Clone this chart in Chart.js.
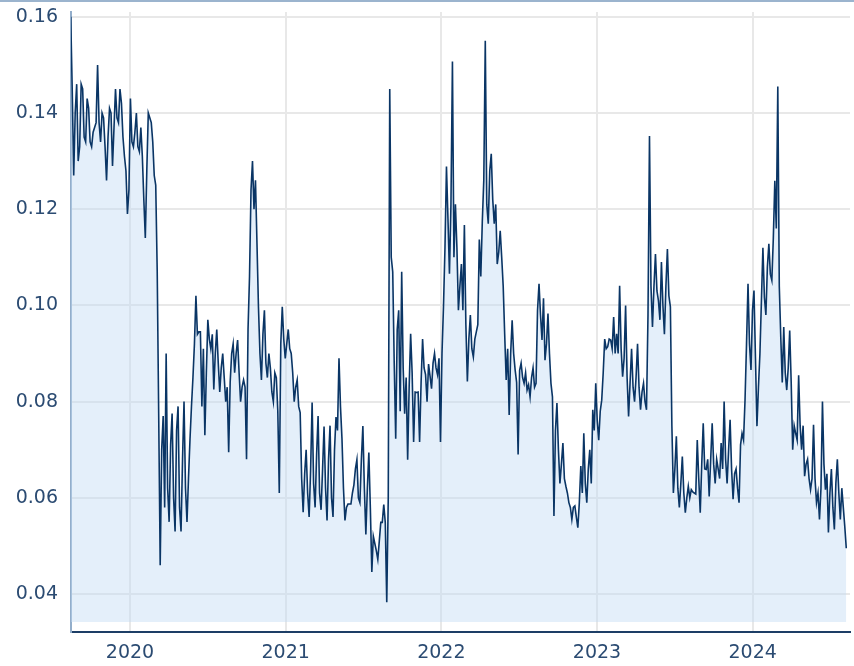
<!DOCTYPE html>
<html>
<head>
<meta charset="utf-8">
<script src="https://cdn.jsdelivr.net/npm/chart.js@4.4.1/dist/chart.umd.min.js"></script>
<style>
  html, body { margin: 0; padding: 0; background: #fff; }
  #wrap { position: relative; width: 854px; height: 666px; }
  #topline { position: absolute; left: 0; top: 0; width: 854px; height: 2px; background: #9bb4ce; }
</style>
</head>
<body>
<div id="wrap">
  <canvas id="chart" width="854" height="666"></canvas>
  <div id="topline"></div>
</div>
<script>
// readings every half week (3.5 days), first one on 2019-08-15
var firstDay = '2019-08-15';
var stepDays = 3.5;
var rate = [
  0.160,0.145, 0.127,0.140, 0.146,0.130, 0.133,0.146, 0.145,0.135,
  0.134,0.143, 0.141,0.134, 0.133,0.136, 0.137,0.138, 0.150,0.138,
  0.134,0.140, 0.139,0.133, 0.126,0.135, 0.141,0.140, 0.129,0.137,
  0.145,0.139, 0.138,0.145, 0.142,0.135, 0.131,0.128, 0.119,0.124,
  0.143,0.134, 0.133,0.136, 0.140,0.133, 0.132,0.137, 0.131,0.122,
  0.114,0.128, 0.140,0.139, 0.138,0.134, 0.127,0.125, 0.107,0.077,
  0.046,0.070, 0.077,0.058, 0.090,0.062, 0.055,0.071, 0.0775,0.060,
  0.053,0.074, 0.079,0.058, 0.053,0.068, 0.080,0.062, 0.055,0.064,
  0.072,0.079, 0.085,0.092, 0.102,0.094, 0.0945,0.0945, 0.079,0.091,
  0.073,0.086, 0.097,0.093, 0.091,0.094, 0.0825,0.090, 0.095,0.088,
  0.082,0.087, 0.090,0.085, 0.080,0.083, 0.0695,0.084, 0.090,0.092,
  0.086,0.090, 0.0928,0.086, 0.080,0.083, 0.0845,0.083, 0.068,0.095,
  0.106,0.124, 0.130,0.120, 0.126,0.113, 0.0997,0.090, 0.0845,0.094,
  0.099,0.088, 0.085,0.090, 0.087,0.082, 0.080,0.086, 0.085,0.078,
  0.061,0.092, 0.0997,0.093, 0.089,0.092, 0.095,0.091, 0.090,0.086,
  0.080,0.083, 0.0845,0.079, 0.0777,0.064, 0.057,0.065, 0.070,0.061,
  0.056,0.066, 0.0798,0.063, 0.058,0.069, 0.077,0.061, 0.0575,0.066,
  0.0748,0.062, 0.0553,0.068, 0.075,0.060, 0.056,0.070, 0.0768,0.074,
  0.089,0.079, 0.0723,0.062, 0.0553,0.058, 0.0587,0.0587, 0.0587,0.061,
  0.0627,0.066, 0.0679,0.060, 0.059,0.068, 0.0749,0.062, 0.0524,0.062,
  0.0694,0.058, 0.0446,0.052, 0.0505,0.049, 0.0472,0.051, 0.0549,0.0549,
  0.0586,0.0549, 0.0383,0.060, 0.145,0.110, 0.107,0.088, 0.0723,0.095,
  0.099,0.078, 0.107,0.087, 0.0775,0.085, 0.0679,0.083, 0.0941,0.086,
  0.0716,0.082, 0.0819,0.082, 0.0716,0.084, 0.093,0.087, 0.0856,0.080,
  0.0878,0.0853, 0.0827,0.088, 0.090,0.087, 0.0856,0.089, 0.0716,0.090,
  0.0997,0.112, 0.1289,0.118, 0.1066,0.121, 0.1507,0.110, 0.121,0.112,
  0.099,0.104, 0.1086,0.099, 0.1167,0.096, 0.0842,0.093, 0.098,0.091,
  0.0893,0.093, 0.0945,0.096, 0.1137,0.106, 0.1174,0.126, 0.155,0.121,
  0.117,0.128, 0.1315,0.122, 0.117,0.121, 0.1086,0.111, 0.1155,0.110,
  0.104,0.094, 0.0845,0.091, 0.0772,0.090, 0.0969,0.090, 0.0866,0.084,
  0.069,0.0865, 0.088,0.085, 0.0838,0.086, 0.0824,0.0835, 0.081,0.085,
  0.087,0.083, 0.0838,0.099, 0.1045,0.098, 0.0928,0.1015, 0.0886,0.092,
  0.0983,0.090, 0.0838,0.081, 0.0562,0.074, 0.0797,0.070, 0.063,0.067,
  0.0714,0.064, 0.0624,0.061, 0.059,0.058, 0.0555,0.058, 0.0583,0.056,
  0.0538,0.059, 0.0666,0.061, 0.0734,0.063, 0.059,0.066, 0.070,0.063,
  0.0783,0.074, 0.0838,0.076, 0.072,0.078, 0.0803,0.086, 0.093,0.091,
  0.0914,0.093, 0.0928,0.091, 0.0976,0.090, 0.0941,0.090, 0.1041,0.091,
  0.0852,0.089, 0.100,0.085, 0.0769,0.084, 0.091,0.083, 0.080,0.085,
  0.092,0.083, 0.0783,0.082, 0.0838,0.080, 0.0783,0.098, 0.1352,0.104,
  0.0955,0.104, 0.1107,0.103, 0.101,0.097, 0.109,0.100, 0.094,0.104,
  0.1117,0.102, 0.0997,0.075, 0.061,0.066, 0.0728,0.062, 0.058,0.063,
  0.0686,0.061, 0.0569,0.060, 0.0624,0.060, 0.0617,0.0612, 0.061,0.0608,
  0.072,0.064, 0.0569,0.067, 0.0755,0.066, 0.0659,0.068, 0.0603,0.068,
  0.0755,0.067, 0.063,0.068, 0.066,0.064, 0.0714,0.066, 0.080,0.068,
  0.063,0.070, 0.0762,0.066, 0.0597,0.065, 0.066,0.062, 0.059,0.071,
  0.0734,0.072, 0.0803,0.092, 0.1045,0.092, 0.0866,0.099, 0.1031,0.089,
  0.0749,0.083, 0.090,0.101, 0.112,0.1017, 0.098,0.108, 0.1128,0.1065,
  0.1052,0.114, 0.1259,0.116, 0.1455,0.104, 0.0934,0.084, 0.0955,0.086,
  0.0824,0.087, 0.0948,0.084, 0.070,0.075, 0.0734,0.072, 0.0855,0.075,
  0.070,0.075, 0.0645,0.067, 0.068,0.064, 0.0617,0.064, 0.0752,0.064,
  0.059,0.061, 0.0555,0.062, 0.080,0.067, 0.0617,0.065, 0.0528,0.061,
  0.066,0.058, 0.0534,0.063, 0.068,0.061, 0.0555,0.062, 0.058,0.054,
  0.0495
];
var yearTicks = [2020, 2021, 2022, 2023, 2024];
var rateTicks = [0.04, 0.06, 0.08, 0.10, 0.12, 0.14, 0.16];

var DAY = 86400000;

// date -> fractional year so the year gridlines land on Jan 1st
function toYear(ms) {
  var y = new Date(ms).getUTCFullYear();
  var s = Date.UTC(y, 0, 1), e = Date.UTC(y + 1, 0, 1);
  return y + (ms - s) / (e - s);
}

var t0 = Date.parse(firstDay + 'T00:00:00Z');
var points = rate.map(function(v, i) {
  return { x: toYear(t0 + i * stepDays * DAY), y: v };
});

var tickColor = '#2b4b72';
var gridColor = '#e8e8e8';

new Chart(document.getElementById('chart'), {
  type: 'line',
  data: {
    datasets: [{
      data: points,
      borderColor: '#0a3565',
      borderWidth: 1.6,
      backgroundColor: 'rgba(195, 220, 244, 0.45)',
      fill: { value: 0.0342 },
      pointRadius: 0,
      tension: 0
    }]
  },
  options: {
    responsive: false,
    animation: false,
    layout: { padding: { top: 12, right: 4, left: 0, bottom: 0 } },
    plugins: { legend: { display: false }, tooltip: { enabled: false } },
    scales: {
      x: {
        type: 'linear',
        min: 2019.621,
        max: 2024.625,
        afterBuildTicks: function(s) { s.ticks = yearTicks.map(function(v) { return { value: v }; }); },
        afterFit: function(s) { s.height = 34; s.paddingLeft = 0; s.paddingRight = 0; },
        grid: { color: gridColor, lineWidth: 2, drawTicks: false },
        border: { color: '#1d3e66', width: 2 },
        ticks: {
          color: tickColor,
          padding: 10,
          maxRotation: 0,
          font: { family: 'DejaVu Sans', size: 19 },
          callback: function(v) { return String(v); }
        }
      },
      y: {
        min: 0.0321,
        max: 0.161,
        afterBuildTicks: function(s) { s.ticks = rateTicks.map(function(v) { return { value: v }; }); },
        afterFit: function(s) { s.width = 71; s.paddingTop = 0; s.paddingBottom = 0; },
        grid: { color: gridColor, lineWidth: 2, drawTicks: false },
        border: { color: '#93aecb', width: 2 },
        ticks: {
          color: tickColor,
          padding: 13,
          font: { family: 'DejaVu Sans', size: 19 },
          callback: function(v) { return v.toFixed(2); }
        }
      }
    }
  }
});
</script>
</body>
</html>
